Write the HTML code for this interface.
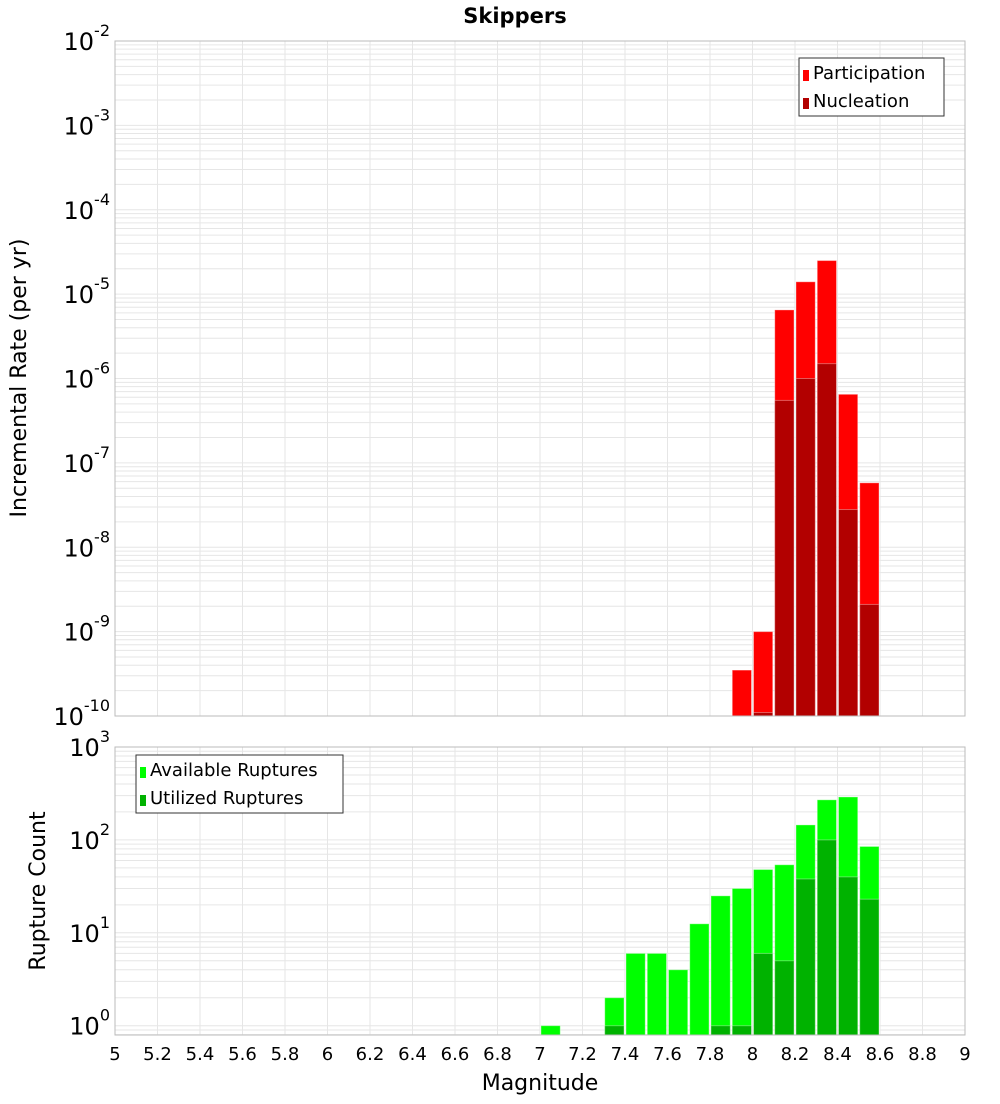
<!DOCTYPE html>
<html><head><meta charset="utf-8"><style>
body{margin:0;background:#fff;font-family:"DejaVu Sans","Liberation Sans",sans-serif}
</style></head><body>
<svg id="c" width="1000" height="1100" xmlns="http://www.w3.org/2000/svg" font-family="DejaVu Sans, Liberation Sans, sans-serif">
<text x="515" y="23" text-anchor="middle" font-size="21" font-weight="bold">Skippers</text>
<g id="topPlot"></g>
<g id="botPlot"></g>
<text transform="translate(26,378) rotate(-90)" text-anchor="middle" font-size="22">Incremental Rate (per yr)</text>
<text transform="translate(45,891) rotate(-90)" text-anchor="middle" font-size="22">Rupture Count</text>
<text x="540" y="1090" text-anchor="middle" font-size="22">Magnitude</text>
</svg>
<script>
const binStarts=[7.0,7.3,7.4,7.5,7.6,7.7,7.8,7.9,8.0,8.1,8.2,8.3,8.4,8.5];
const partMags=[7.9,8.0,8.1,8.2,8.3,8.4,8.5];
const participation=[3.5e-10,1e-9,6.5e-6,1.4e-5,2.5e-5,6.5e-7,5.8e-8];
const nuclMags=[8.0,8.1,8.2,8.3,8.4,8.5];
const nucleation=[1.1e-10,5.5e-7,1e-6,1.5e-6,2.8e-8,2.1e-9];
const available=[1,2,6,6,4,12.5,25,30,48,54,145,270,290,85];
const utilMags=[7.3,7.8,7.9,8.0,8.1,8.2,8.3,8.4,8.5];
const utilized=[1,1,1,6,5,38,100,40,23];
const xTicks=[5,5.2,5.4,5.6,5.8,6,6.2,6.4,6.6,6.8,7,7.2,7.4,7.6,7.8,8,8.2,8.4,8.6,8.8,9];
const topDecades=[-10,-9,-8,-7,-6,-5,-4,-3,-2];
const botDecades=[0,1,2,3];

const NS="http://www.w3.org/2000/svg";
function mk(p,t,a){const e=document.createElementNS(NS,t);for(const k in a)e.setAttribute(k,a[k]);p.appendChild(e);return e;}
const X0=115,X1=965;
const xs=m=>X0+(m-5)/4*(X1-X0);
function panel(g,T,B,lmin,lmax,decs){
  const ys=v=>B-(Math.log10(v)-lmin)/(lmax-lmin)*(B-T);
  mk(g,'rect',{x:X0,y:T,width:X1-X0,height:B-T,fill:'#fff'});
  for(let d=Math.floor(lmin);d<lmax;d++)for(let k=1;k<10;k++){const v=k*Math.pow(10,d);const y=ys(v);if(y<T||y>B)continue;
    const l=mk(g,'line',{x1:X0,x2:X1,y1:y,y2:y,stroke:'#e6e6e6','stroke-width':1});
    
    }
  xTicks.forEach(t=>{const l=mk(g,'line',{x1:xs(t),x2:xs(t),y1:T,y2:B,stroke:'#e6e6e6','stroke-width':1});
    
    });
  decs.forEach(d=>{const y=ys(Math.pow(10,d));const t=mk(g,'text',{x:110,y:y+9,'text-anchor':'end','font-size':24});
    
    
    t.appendChild(document.createTextNode('10'));const s=mk(t,'tspan',{dy:-14,'font-size':16});s.textContent=String(d);});
  return ys;
}
function bar(g,m,v,ys,B,fill,name){const x=xs(m)+1,w=xs(m+0.1)-xs(m)-2;const y=ys(v);
  const r=mk(g,'rect',{x:x,y:y,width:w,height:B-y,fill:fill,stroke:'#fff','stroke-opacity':0.35,'stroke-width':1});
  
  }
const topG=document.getElementById('topPlot'),botG=document.getElementById('botPlot');
const T1=41,B1=716,T2=747,B2=1035;
const ys1=panel(topG,T1,B1,-10,-2,topDecades);
partMags.forEach((m,i)=>bar(topG,m,participation[i],ys1,B1,'#ff0000','participation-bar'));
nuclMags.forEach((m,i)=>bar(topG,m,nucleation[i],ys1,B1,'#b20000','nucleation-bar'));
mk(topG,'rect',{x:X0,y:T1,width:X1-X0,height:B1-T1,fill:'none',stroke:'#bbb'});
const ys2=panel(botG,T2,B2,-0.1,3,botDecades);
binStarts.forEach((m,i)=>bar(botG,m,available[i],ys2,B2,'#00ff00','available-bar'));
utilMags.forEach((m,i)=>bar(botG,m,utilized[i],ys2,B2,'#00b200','utilized-bar'));
mk(botG,'rect',{x:X0,y:T2,width:X1-X0,height:B2-T2,fill:'none',stroke:'#bbb'});
xTicks.forEach(t=>{const e=mk(botG,'text',{x:xs(t),y:1060,'text-anchor':'middle','font-size':18});e.textContent=String(t);
  
  });
function legend(g,x,y,w,items){const b=mk(g,'rect',{x:x,y:y,width:w,height:58,fill:'#fff',stroke:'#333'});
  
  
  items.forEach((it,i)=>{const r=mk(g,'rect',{x:x+4,y:y+12+i*28,width:6,height:11,fill:it[1]});
    const t=mk(g,'text',{x:x+14,y:y+21+i*28,'font-size':18});t.textContent=it[0];
    
    });}
legend(topG,799,58,145,[['Participation','#ff0000'],['Nucleation','#b20000']]);
legend(botG,136,755,207,[['Available Ruptures','#00ff00'],['Utilized Ruptures','#00b200']]);
</script>
</body></html>
